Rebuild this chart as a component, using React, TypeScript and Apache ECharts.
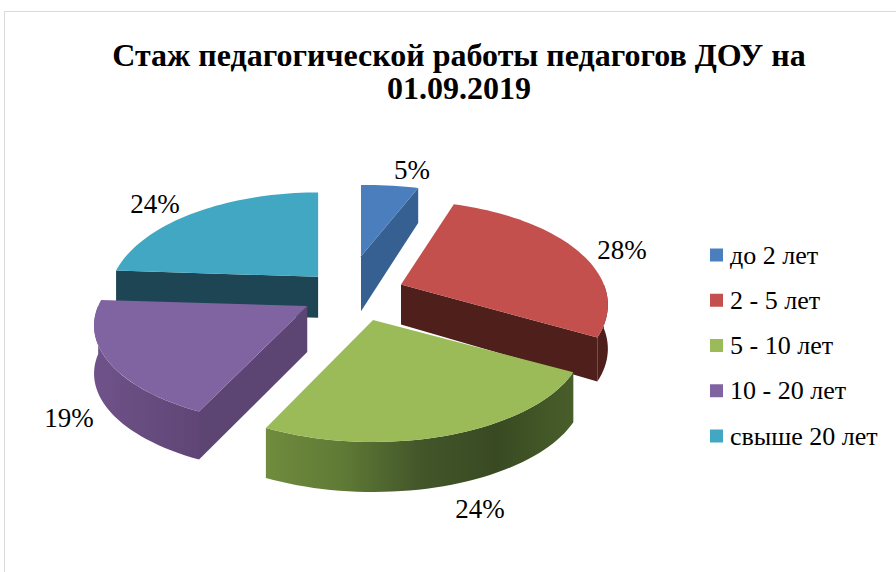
import React, { useEffect, useRef } from "react";
import * as echarts from "echarts";

const titleText = "Стаж педагогической работы педагогов ДОУ на\n01.09.2019";
const categories = ["до 2 лет", "2 - 5 лет", "5 - 10 лет", "10 - 20 лет", "свыше 20 лет"];
const values = [5, 28, 24, 19, 24];

const topColors = ["#4a7ebd", "#c3504d", "#9bbb59", "#8064a2", "#41a7c3"];
const edgeColors = ["#366092", "#4f1f1c", "#536a2f", "#5d4573", "#1d4554"];
const rimStops: string[][] = [
  ["#366092", "#366092"],
  ["#4f1f1c", "#4f1f1c"],
  ["#708c3e", "#5f7a35", "#43562a", "#394a22", "#485e2a"],
  ["#6f5289", "#5f4676"],
  ["#1d4554", "#1d4554"],
];

// View of the pie (tilted, with perspective)
const CX = 350, CY = 294, RX = 207, RY = 98, PERSP = 0.196;
const explodeX = [0.34, 0.265, 0.36, 0.24, 0.225];
const explodeY = [0.39, 0.265, 0.28, 0.24, 0.24];
const scaleX = [1.06, 0.98, 1, 1.01, 0.99];
const scaleY = [0.87, 1.02, 1, 0.98, 1.03];
const apexDepth = [55, 40, 49, 46, 41];
const rimDepth = [35, 44, 50, 48, 41];
const labelPos = [[412, 170], [622, 250], [480, 509], [69, 418], [155, 204]];
const drawOrder = [4, 0, 1, 3, 2];

const total = values.reduce((a, b) => a + b, 0);
const rad = (d: number) => (d * Math.PI) / 180;

function App() {
  const ref = useRef<HTMLDivElement>(null);
  useEffect(() => {
    document.body.style.margin = "0";
    const chart = echarts.init(ref.current!, null, { renderer: "svg" });

    const makeRender = (i: number) => (_p: any, api: any) => {
      const before = values.slice(0, i).reduce((a, b) => a + b, 0);
      const start = (before / total) * 360;
      const end = start + (api.value(0) / total) * 360;
      const mid = rad((start + end) / 2);
      const ax = CX + explodeX[i] * RX * Math.sin(mid);
      const ay = CY - explodeY[i] * RY * Math.cos(mid);
      const rim = (deg: number): number[] => {
        const X = Math.sin(rad(deg));
        const Y = -Math.cos(rad(deg));
        const s = 1 / (1 - PERSP * Y);
        return [ax + scaleX[i] * RX * X * s, ay + scaleY[i] * RY * Y * s];
      };
      const arc = (a: number, b: number): number[][] => {
        const n = Math.max(2, Math.ceil(Math.abs(b - a) / 2));
        const pts: number[][] = [];
        for (let j = 0; j <= n; j++) pts.push(rim(a + ((b - a) * j) / n));
        return pts;
      };
      const children: any[] = [];
      const radial = (deg: number) => {
        const p = rim(deg);
        children.push({
          type: "polygon",
          shape: { points: [[ax, ay], p, [p[0], p[1] + rimDepth[i]], [ax, ay + apexDepth[i]]] },
          style: { fill: edgeColors[i] },
        });
      };
      // radial walls that face the viewer
      if (Math.cos(rad(start - 90)) < -0.01) radial(start);
      if (Math.cos(rad(end + 90)) < -0.01) radial(end);
      // outer wall, front half only
      const ra = Math.max(start, 90);
      const rb = Math.min(end, 270);
      if (rb > ra) {
        const upper = arc(ra, rb);
        const lower = upper.map((p) => [p[0], p[1] + rimDepth[i]]).reverse();
        const st = rimStops[i];
        children.push({
          type: "polygon",
          shape: { points: upper.concat(lower) },
          style: {
            fill: {
              type: "linear",
              x: 0,
              y: 0,
              x2: 1,
              y2: 0,
              colorStops: st.map((c, j) => ({ offset: j / (st.length - 1), color: c })),
            },
          },
        });
      }
      // top face
      children.push({
        type: "polygon",
        shape: { points: [[ax, ay], ...arc(start, end)] },
        style: { fill: topColors[i] },
      });
      children.push({
        type: "text",
        style: {
          text: `${api.value(0)}%`,
          x: labelPos[i][0],
          y: labelPos[i][1],
          align: "center",
          verticalAlign: "middle",
          fill: "#000",
          font: '27px "Liberation Serif"',
        },
      });
      return { type: "group", children };
    };

    chart.setOption({
      animation: false,
      backgroundColor: "#ffffff",
      title: {
        text: titleText,
        left: 454,
        top: 33,
        textAlign: "center",
        textStyle: {
          fontFamily: "Liberation Serif",
          fontWeight: "bold",
          fontSize: 32,
          lineHeight: 33,
          color: "#000",
        },
      },
      legend: {
        orient: "vertical",
        left: 705,
        top: 237,
        icon: "rect",
        itemWidth: 13,
        itemHeight: 13,
        itemGap: 19.25,
        data: categories,
        textStyle: {
          fontFamily: "Liberation Serif",
          fontSize: 26,
          lineHeight: 26,
          color: "#000",
          padding: [0, 0, 0, 2],
        },
      },
      graphic: [
        {
          type: "rect",
          silent: true,
          shape: { x: 4.5, y: 11.5, width: 1000, height: 1000 },
          style: { fill: "none", stroke: "#d9d9d9", lineWidth: 1 },
        },
      ],
      series: drawOrder.map((i) => ({
        type: "custom",
        name: categories[i],
        coordinateSystem: "none",
        itemStyle: { color: topColors[i] },
        data: [[values[i]]],
        renderItem: makeRender(i),
      })),
    });
    return () => chart.dispose();
  }, []);
  return <div ref={ref} style={{ width: 896, height: 572 }} />;
}

export default App;
